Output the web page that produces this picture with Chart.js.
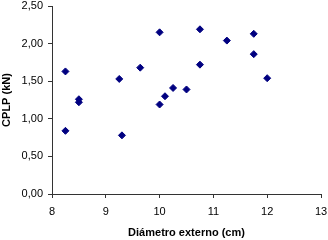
<!DOCTYPE html>
<html>
<head>
<meta charset="utf-8">
<script src="https://cdn.jsdelivr.net/npm/chart.js@4"></script>
<style>
  html, body { margin: 0; padding: 0; background: #fff; }
  #wrap { width: 328px; height: 240px; }
</style>
</head>
<body>
<div id="wrap"><canvas id="cplpChart"></canvas></div>
<script>
const diametro = [8.25, 8.25, 8.5, 8.5, 9.25, 9.3, 9.64, 10.0, 10.0, 10.1, 10.25, 10.5, 10.75, 10.75, 11.25, 11.75, 11.75, 12.0];
const cplp = [1.63, 0.84, 1.26, 1.22, 1.53, 0.78, 1.68, 2.15, 1.19, 1.30, 1.41, 1.39, 2.19, 1.72, 2.04, 2.13, 1.86, 1.54];

const points = diametro.map((x, i) => ({ x: x, y: cplp[i] }));

const axisColor = "#333333";
const tickFont = { family: "'Liberation Sans', Arial, sans-serif", size: 11 };
const titleFont = { family: "'Liberation Sans', Arial, sans-serif", size: 11, weight: "bold" };

const config = {
  type: "scatter",
  data: {
    datasets: [
      {
        label: "CPLP",
        data: points,
        pointStyle: "rectRot",
        pointRadius: 3.5,
        backgroundColor: "#000080",
        borderColor: "#000080",
        borderWidth: 1,
      },
    ],
  },
  options: {
    responsive: true,
    maintainAspectRatio: false,
    animation: false,
    layout: { padding: { top: 6, right: 7, left: 0, bottom: 0 } },
    plugins: { legend: { display: false }, tooltip: { enabled: false } },
    scales: {
      x: {
        type: "linear",
        min: 8,
        max: 13,
        border: { color: axisColor, width: 1 },
        grid: { drawOnChartArea: false, tickLength: 4, color: axisColor },
        ticks: { stepSize: 1, color: "#000", font: tickFont, padding: 7 },
        title: { display: true, text: "Diámetro externo (cm)", color: "#000", font: titleFont, padding: 0 },
        afterFit: (scale) => {
          scale.height = 46;
          scale.paddingLeft = 0;
          scale.paddingRight = 6;
        },
      },
      y: {
        type: "linear",
        min: 0,
        max: 2.5,
        border: { color: axisColor, width: 1 },
        grid: { drawOnChartArea: false, tickLength: 4, color: axisColor },
        ticks: {
          stepSize: 0.5,
          color: "#000",
          font: tickFont,
          padding: 5,
          callback: (v) => v.toFixed(2).replace(".", ","),
        },
        title: { display: true, text: "CPLP (kN)", color: "#000", font: titleFont, padding: 0 },
        afterFit: (scale) => {
          scale.width = 52;
          scale.paddingTop = 6;
          scale.paddingBottom = 0;
        },
      },
    },
  },
};

new Chart(document.getElementById("cplpChart"), config);
</script>
</body>
</html>
